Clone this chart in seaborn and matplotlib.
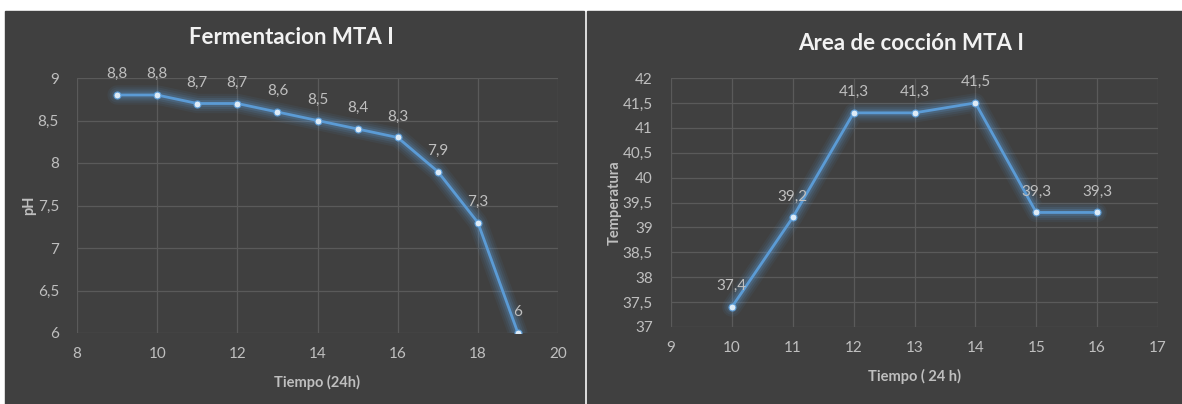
import matplotlib
matplotlib.use("Agg")
import matplotlib.pyplot as plt
import seaborn as sns
import numpy as np
from matplotlib.patches import Rectangle
from matplotlib.ticker import FuncFormatter, MultipleLocator

# datos
ferm_tiempo = [9, 10, 11, 12, 13, 14, 15, 16, 17, 18, 19]
ferm_ph = [8.8, 8.8, 8.7, 8.7, 8.6, 8.5, 8.4, 8.3, 7.9, 7.3, 6]

cocc_tiempo = [10, 11, 12, 13, 14, 15, 16]
cocc_temp = [37.4, 39.2, 41.3, 41.3, 41.5, 39.3, 39.3]

sns.set_style("dark")
plt.rcParams['font.family'] = ['Lato', 'DejaVu Sans']

BG = "#404040"
GRID = "#5a5a5a"
TXT = "#bfbfbf"
LINE = "#5b9bd5"


def coma(v, pos=None):
    s = f"{v:g}"
    return s.replace(".", ",")


fig = plt.figure(figsize=(11.82, 4.04), dpi=100, facecolor="white")
fig.patches.append(Rectangle((5 / 1182, 0), 579 / 1182, 1 - 11 / 404,
                             transform=fig.transFigure, color=BG, zorder=-10))
fig.patches.append(Rectangle((587 / 1182, 0), 595 / 1182, 1 - 11 / 404,
                             transform=fig.transFigure, color=BG, zorder=-10))


def panel(rect, x, y, xlim, xstep, ylim, ystep, title, title_xy, xlabel, ylabel,
          ylabelpad):
    ax = fig.add_axes(rect)
    ax.set_facecolor(BG)
    # brillo alrededor de la linea
    for lw, a in [(14, 0.07), (11, 0.09), (8, 0.13), (5, 0.2)]:
        sns.lineplot(x=x, y=y, ax=ax, color=LINE, linewidth=lw, alpha=a,
                     solid_capstyle="round", solid_joinstyle="round")
    sns.lineplot(x=x, y=y, ax=ax, color=LINE, linewidth=2, marker="o",
                 markersize=5, markerfacecolor="#ddebf7", markeredgecolor=LINE,
                 markeredgewidth=0.8)
    for xi, yi in zip(x, y):
        ax.annotate(coma(yi), (xi, yi), xytext=(0, 10), textcoords="offset points",
                    ha="center", va="bottom", color=TXT, fontsize=11)
    ax.set_xlim(*xlim)
    ax.set_ylim(*ylim)
    ax.xaxis.set_major_locator(MultipleLocator(xstep))
    ax.yaxis.set_major_locator(MultipleLocator(ystep))
    ax.yaxis.set_major_formatter(FuncFormatter(coma))
    ax.grid(True, color=GRID, linewidth=0.9)
    for s in ax.spines.values():
        s.set_visible(False)
    ax.tick_params(colors=TXT, labelsize=11, length=0)
    ax.tick_params(axis="x", pad=10)
    ax.tick_params(axis="y", pad=13)
    ax.set_xlabel(xlabel, color=TXT, fontsize=10.5, fontweight="bold", labelpad=10)
    ax.set_ylabel(ylabel, color=TXT, fontsize=10.5, fontweight="bold",
                  labelpad=ylabelpad)
    fig.text(title_xy[0] / 1182, 1 - title_xy[1] / 404, title, color="#f2f2f2",
             fontsize=16, fontweight="bold", ha="center", va="center")
    return ax


panel([77 / 1182, 1 - 333 / 404, 481 / 1182, 255 / 404],
      ferm_tiempo, ferm_ph, (8, 20), 2, (6, 9), 0.5,
      "Fermentacion MTA I", (291, 38), "Tiempo (24h)", "pH", 1)

panel([671 / 1182, 1 - 327 / 404, 487 / 1182, 249 / 404],
      cocc_tiempo, cocc_temp, (9, 17), 1, (37, 42), 0.5,
      "Area de cocción MTA I", (911, 43), "Tiempo ( 24 h)", "Temperatura", 1)

fig.savefig("out.png", dpi=100, facecolor="white")
